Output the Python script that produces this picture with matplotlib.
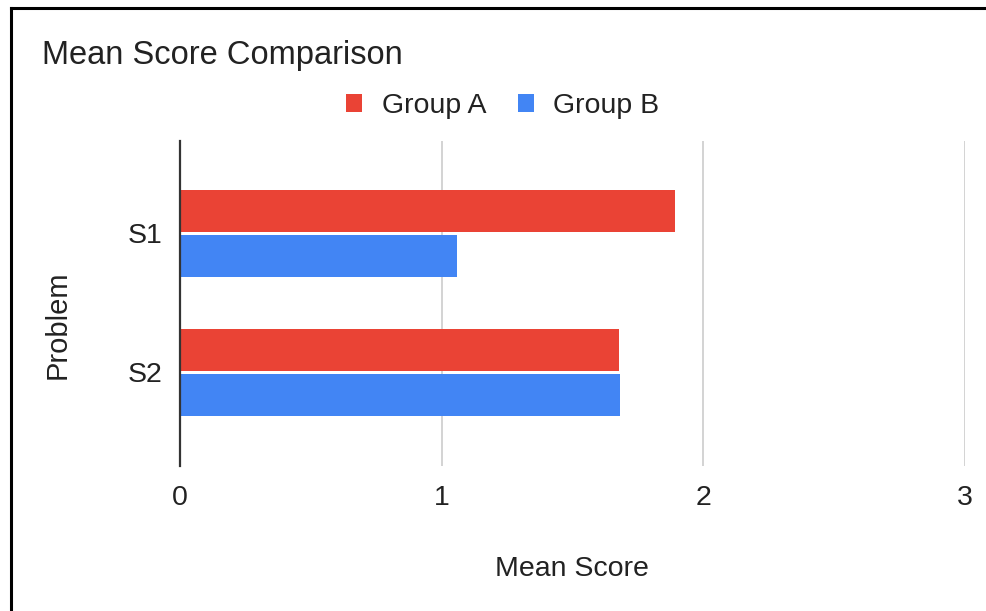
import matplotlib
matplotlib.use("Agg")
import matplotlib.pyplot as plt
from matplotlib.lines import Line2D
from matplotlib.patches import Patch
import numpy as np

# Data
categories = ["S1", "S2"]
series_names = ["Group A", "Group B"]
group_a = [1.89, 1.678]
group_b = [1.058, 1.683]
x_ticks = [0, 1, 2, 3]
x_tick_labels = ["0", "1", "2", "3"]

colors = ["#EA4335", "#4285F4"]
FONT = "Liberation Sans"
plt.rcParams["font.family"] = [FONT, "DejaVu Sans"]

W, H = 986, 611
fig = plt.figure(figsize=(W / 100, H / 100), dpi=100)
fig.patch.set_facecolor("white")

ax = fig.add_axes([180 / W, 1 - 466 / H, (965 - 180) / W, (466 - 141) / H])

y = np.arange(len(categories))
bh = 0.30
off = 0.162
ax.barh(y - off, group_a, height=bh, color=colors[0], label=series_names[0], zorder=3)
ax.barh(y + off, group_b, height=bh, color=colors[1], label=series_names[1], zorder=3)

ax.set_xlim(0, 3)
ax.set_ylim(1.673, -0.665)
ax.set_xticks(x_ticks)
ax.set_xticklabels(x_tick_labels)
ax.set_yticks(y)
ax.set_yticklabels(categories)
ax.tick_params(axis="both", length=0, labelsize=20.5, colors="#222222")
ax.tick_params(axis="x", pad=14)
ax.tick_params(axis="y", pad=13)

for s in ["top", "right", "bottom"]:
    ax.spines[s].set_visible(False)
ax.spines["left"].set_color("#333333")
ax.spines["left"].set_linewidth(1.6)
ax.spines["left"].set_zorder(4)

for xv in x_ticks[1:]:
    ax.axvline(xv, color="#cccccc", linewidth=1.2, zorder=1)

# Title
fig.text(42 / W, 1 - 64 / H, "Mean Score Comparison", fontsize=23.5,
         color="#222222", ha="left", va="baseline")

# Axis labels
fig.text(572 / W, 1 - 569 / H, "Mean Score", fontsize=20.5, color="#222222",
         ha="center", va="center")
fig.text(58 / W, 1 - 325 / H, "Problem", fontsize=21, color="#222222",
         ha="center", va="center", rotation=90)

# Legend
handles = [Patch(facecolor=c, edgecolor="none") for c in colors]
fig.legend(handles, series_names, loc="center", bbox_to_anchor=(503 / W, 1 - 106 / H),
           ncol=2, frameon=False, fontsize=20.5, handlelength=0.55, handleheight=0.55,
           handletextpad=0.7, columnspacing=1.1, labelcolor="#222222")

# Border lines (left and top)
fig.add_artist(Line2D([11 / W, 11 / W], [0, 1 - 8 / H], color="black", linewidth=2.2,
                      transform=fig.transFigure))
fig.add_artist(Line2D([11 / W, 1], [1 - 8 / H, 1 - 8 / H], color="black", linewidth=2.2,
                      transform=fig.transFigure))

fig.savefig("out.png", dpi=100, facecolor="white")
